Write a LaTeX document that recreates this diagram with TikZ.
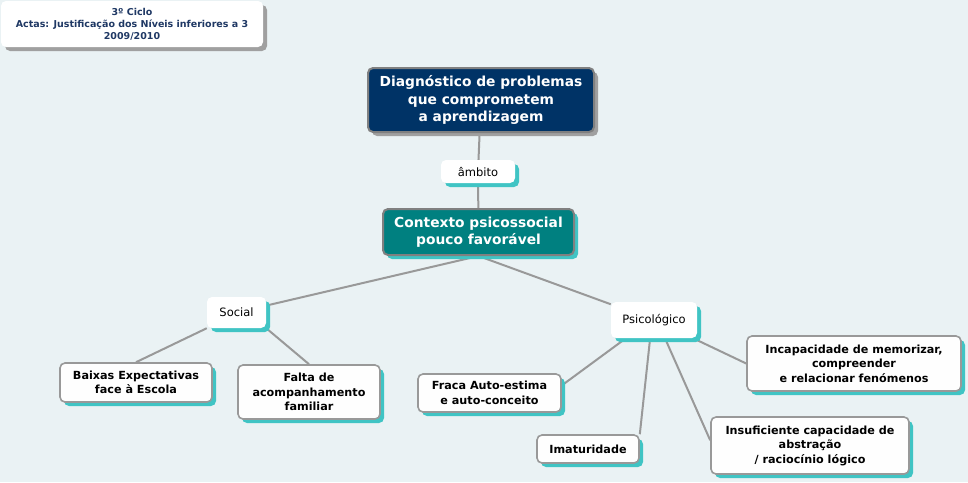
\documentclass[tikz,border=0pt]{standalone}
\usepackage{fontspec}
\setmainfont{DejaVu Sans}
\usetikzlibrary{shadows}

\definecolor{bgpale}{RGB}{234,242,244}
\definecolor{navyfill}{RGB}{0,51,102}
\definecolor{tealfill}{RGB}{0,128,128}
\definecolor{tealshade}{RGB}{64,196,196}
\definecolor{linkgray}{RGB}{153,153,153}
\definecolor{rimgray}{RGB}{128,128,128}
\definecolor{titleblue}{RGB}{31,56,100}

\pgfdeclarelayer{bg}
\pgfdeclarelayer{edges}
\pgfsetlayers{bg,edges,main}

\tikzset{
  box/.style={rounded corners=5pt, align=center, inner sep=2pt},
  tealshadow/.style={drop shadow={shadow xshift=4pt, shadow yshift=-4pt, fill=tealshade, opacity=1}},
  grayshadow/.style={drop shadow={shadow xshift=4pt, shadow yshift=-4pt, fill=rimgray!75, opacity=1}},
  titlebox/.style={box, fill=white, grayshadow, text=titleblue,
    font=\fontsize{9.5}{12}\selectfont\bfseries},
  topicbox/.style={box, fill=navyfill, draw=rimgray, line width=2pt, grayshadow, text=white,
    font=\fontsize{13.8}{17.5}\selectfont\bfseries},
  ctxbox/.style={box, fill=tealfill, draw=rimgray, line width=2pt, tealshadow, text=white,
    font=\fontsize{13.8}{17.5}\selectfont\bfseries},
  linkbox/.style={box, fill=white, tealshadow, font=\fontsize{11.5}{13}\selectfont},
  leafbox/.style={box, fill=white!94!bgpale, draw=linkgray, line width=1.6pt, tealshadow,
    font=\fontsize{11.2}{14.5}\selectfont\bfseries},
  link/.style={draw=linkgray, line width=2pt}
}

\begin{document}
\begin{tikzpicture}[x=1pt, y=-1pt]
\useasboundingbox (0,0) rectangle (968,482);
\begin{pgfonlayer}{bg}
  \fill[bgpale] (0,0) rectangle (968,482);
\end{pgfonlayer}

% header
\node[titlebox, minimum width=262, minimum height=46] (header) at (132,24)
  {3º Ciclo\\Actas: Justificação dos Níveis inferiores a 3\\2009/2010};

% main concepts
\node[topicbox, minimum width=226, minimum height=64] (topic) at (481,100)
  {Diagnóstico de problemas\\que comprometem\\ a aprendizagem};
\node[linkbox, minimum width=74, minimum height=23] (ambito) at (478,171.5) {âmbito};
\node[ctxbox, minimum width=191, minimum height=46] (ctx) at (478.5,232)
  {Contexto psicossocial\\pouco favorável};

% branches
\node[linkbox, minimum width=59, minimum height=31] (social) at (236.5,312.5) {Social};
\node[linkbox, minimum width=86, minimum height=36] (psico) at (654,320) {Psicológico};

% leaves
\node[leafbox, minimum width=152, minimum height=39] (baixas) at (136,382.5)
  {Baixas Expectativas\\face à Escola};
\node[leafbox, minimum width=142, minimum height=54] (falta) at (309,392)
  {Falta de\\acompanhamento\\familiar};
\node[leafbox, minimum width=143, minimum height=38] (fraca) at (489.5,393)
  {Fraca Auto-estima\\e auto-conceito};
\node[leafbox, minimum width=102, minimum height=28] (imat) at (588,449) {Imaturidade};
\node[leafbox, minimum width=214, minimum height=55] (incap) at (854,363.5)
  {Incapacidade de memorizar,\\compreender\\ e relacionar fenómenos};
\node[leafbox, minimum width=198, minimum height=57] (insuf) at (810,445.5)
  {Insuficiente capacidade de\\abstração\\/ raciocínio lógico};

% connectors
\begin{pgfonlayer}{edges}
  \draw[link] (topic) -- (ambito);
  \draw[link] (ambito) -- (ctx);
  \draw[link] (ctx.south) -- (social);
  \draw[link] (ctx.south) -- (psico);
  \draw[link] (social.south west) -- (baixas.north);
  \draw[link] (social.south east) -- (falta.north);
  \draw[link] (psico.-147) -- (fraca.6);
  \draw[link] (psico.-102) -- (imat.north east);
  \draw[link] (psico.-59) -- (insuf.177);
  \draw[link] (psico.-25) -- (incap.west);
\end{pgfonlayer}

\end{tikzpicture}
\end{document}
